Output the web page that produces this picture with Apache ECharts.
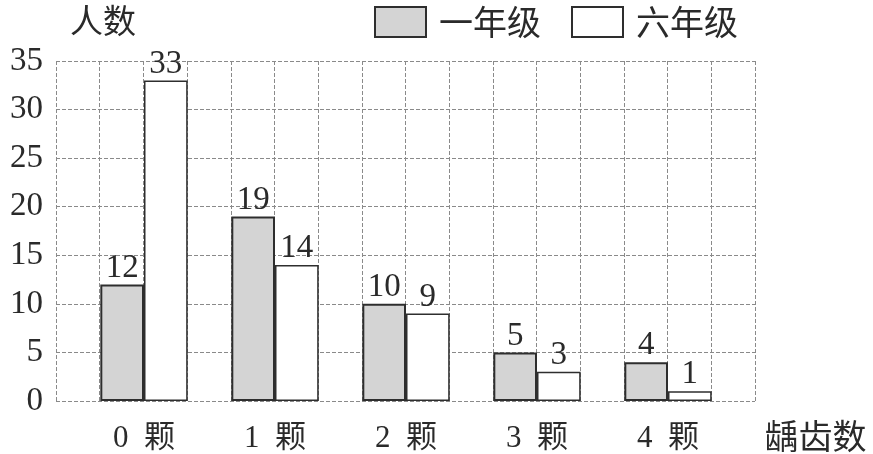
<!DOCTYPE html>
<html>
<head>
<meta charset="utf-8">
<script src="https://cdn.jsdelivr.net/npm/echarts@6/dist/echarts.min.js"></script>
<style>
html, body { margin: 0; padding: 0; background: #fff; }
#main { width: 873px; height: 454px; }
</style>
</head>
<body>
<div id="main"></div>
<script>
// 龋齿数统计 一年级 / 六年级
var categories = ['0  颗', '1  颗', '2  颗', '3  颗', '4  颗'];
var grade1 = [12, 19, 10, 5, 4];
var grade6 = [33, 14, 9, 3, 1];
var seriesNames = ['一年级', '六年级'];

var serifFont = "'Liberation Serif', 'Noto Sans CJK SC', serif";
var cjkFont = "'Noto Sans CJK SC', sans-serif";
var ink = '#2a2a2a';
var dash = { color: '#8a8a8a', width: 1, type: [4, 2] };

var myChart = echarts.init(document.getElementById('main'));

var option = {
    backgroundColor: '#fff',
    animation: false,
    legend: {
        left: 374,
        top: 5,
        padding: 0,
        itemWidth: 51,
        itemHeight: 30,
        itemGap: 30,
        icon: 'rect',
        textStyle: {
            fontFamily: cjkFont,
            fontSize: 34,
            color: ink,
            padding: [0, 0, 0, 8]
        },
        data: seriesNames
    },
    grid: [
        // background squared grid
        { left: 56, right: 118, top: 61, bottom: 53 },
        // bars
        { left: 78.5, right: 139.5, top: 61, bottom: 53 }
    ],
    xAxis: [{
        gridIndex: 0,
        type: 'value',
        min: 0,
        max: 16,
        interval: 1,
        axisLabel: { show: false },
        axisTick: { show: false },
        axisLine: { show: false },
        splitLine: { show: true, lineStyle: dash }
    }, {
        gridIndex: 1,
        type: 'category',
        data: categories,
        axisTick: { show: false },
        axisLine: { show: false },
        axisLabel: {
            margin: 22,
            fontFamily: serifFont,
            fontSize: 31,
            color: ink
        },
        name: '龋齿数',
        nameLocation: 'end',
        nameGap: 31,
        nameTextStyle: {
            fontFamily: cjkFont,
            fontSize: 34,
            color: ink,
            verticalAlign: 'top',
            padding: [18, 0, 0, 0]
        }
    }],
    yAxis: [{
        gridIndex: 0,
        type: 'value',
        min: 0,
        max: 35,
        interval: 5,
        axisTick: { show: false },
        axisLine: { show: false },
        splitLine: { show: true, lineStyle: dash },
        axisLabel: {
            margin: 13,
            fontFamily: serifFont,
            fontSize: 33,
            color: ink
        },
        name: '人数',
        nameLocation: 'end',
        nameGap: 24,
        nameTextStyle: {
            fontFamily: cjkFont,
            fontSize: 33,
            color: ink,
            align: 'left',
            padding: [0, 0, 0, 14]
        }
    }, {
        gridIndex: 1,
        type: 'value',
        min: 0,
        max: 35,
        interval: 5,
        show: false
    }],
    series: [{
        name: seriesNames[0],
        type: 'bar',
        xAxisIndex: 1,
        yAxisIndex: 1,
        data: grade1,
        barGap: '0%',
        barCategoryGap: '33.3%',
        itemStyle: {
            color: '#d4d4d4',
            borderColor: '#2e2e2e',
            borderWidth: 2
        },
        label: {
            show: true,
            position: 'top',
            distance: 0,
            fontFamily: serifFont,
            fontSize: 33,
            color: ink
        }
    }, {
        name: seriesNames[1],
        type: 'bar',
        xAxisIndex: 1,
        yAxisIndex: 1,
        data: grade6,
        itemStyle: {
            color: '#ffffff',
            borderColor: '#2e2e2e',
            borderWidth: 1.5
        },
        label: {
            show: true,
            position: 'top',
            distance: 0,
            fontFamily: serifFont,
            fontSize: 33,
            color: ink
        }
    }]
};
myChart.setOption(option);
</script>
</body>
</html>
